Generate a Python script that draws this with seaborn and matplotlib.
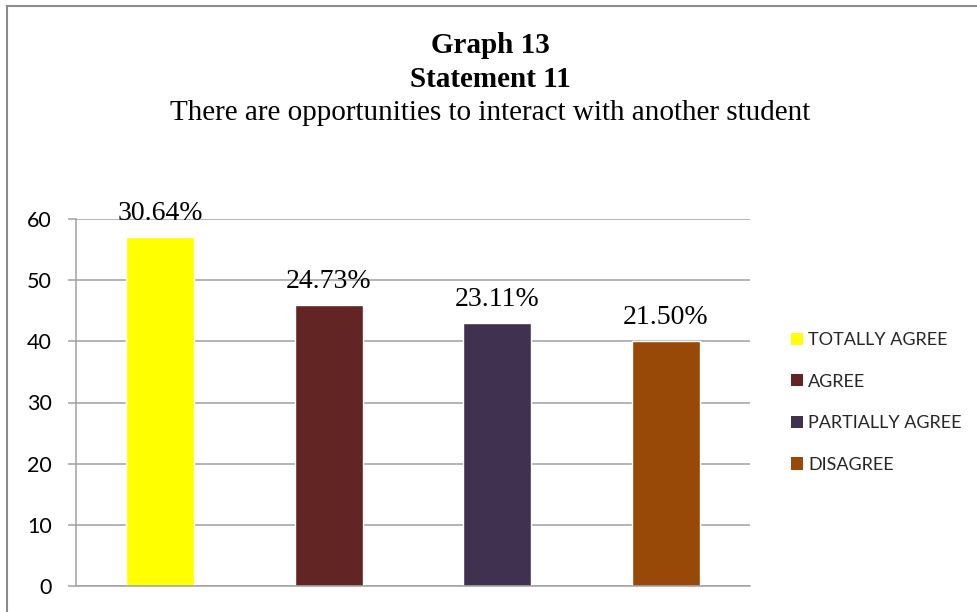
import matplotlib
matplotlib.use("Agg")
import matplotlib.pyplot as plt
import matplotlib.patches as mpatches
import seaborn as sns
import pandas as pd

categories = ["TOTALLY AGREE", "AGREE", "PARTIALLY AGREE", "DISAGREE"]
counts = [57, 46, 43, 40]
pct_labels = ["30.64%", "24.73%", "23.11%", "21.50%"]
colors = ["#FFFF00", "#632523", "#403151", "#984807"]
title_lines = ["Graph 13", "Statement 11", "There are opportunities to interact with another student"]
yticks = [0, 10, 20, 30, 40, 50, 60]

sns.set_theme(style="white")
plt.rcParams['font.family'] = ['Lato', 'DejaVu Sans']

W, H = 977, 612
fig = plt.figure(figsize=(W / 100, H / 100), dpi=100)
ax = fig.add_axes([76 / W, (H - 586) / H, (750 - 76) / W, (586 - 219) / H])

df = pd.DataFrame({"cat": categories, "val": counts})
sns.barplot(data=df, x="cat", y="val", hue="cat", palette=colors, dodge=False,
            width=0.405, saturation=1, legend=False, ax=ax)

ax.set_ylim(0, 60)
ax.set_yticks(yticks)
ax.set_xlim(-0.5, len(categories) - 0.5)
ax.set_xlabel("")
ax.set_ylabel("")
ax.set_xticks([])
ax.grid(axis="y", color="#A0A0A0", linewidth=1.1)
ax.set_axisbelow(True)
for s in ["top", "right"]:
    ax.spines[s].set_visible(False)
for s in ["left", "bottom"]:
    ax.spines[s].set_color("#A0A0A0")
    ax.spines[s].set_linewidth(1.1)
ax.tick_params(axis="y", which="major", left=True, length=5.8, width=1.1,
               color="#A0A0A0", pad=11.5, labelsize=15.5, labelcolor="black")

for i, (v, lab) in enumerate(zip(counts, pct_labels)):
    ax.annotate(lab, xy=(i, v), xytext=(0, 12.2), textcoords="offset points",
                ha="center", va="baseline", fontsize=20,
                family=["Liberation Serif", "DejaVu Serif"], color="black")

handles = [mpatches.Patch(facecolor=c, edgecolor="none", label=l) for c, l in zip(colors, categories)]
leg = fig.legend(handles=handles, loc="upper left", bbox_to_anchor=(791 / W, 1 - 332 / H),
                 frameon=False, fontsize=13, handlelength=0.66, handleheight=0.66,
                 handletextpad=0.3, labelspacing=1.42, borderpad=0, borderaxespad=0)

baselines = [53, 87, 120]
weights = ["bold", "bold", "normal"]
for t, b, w in zip(title_lines, baselines, weights):
    fig.text(0.5 + 2 / W, 1 - b / H, t, ha="center", va="baseline", fontsize=21,
             fontweight=w, family=["Liberation Serif", "DejaVu Serif"], color="black")

border = mpatches.Rectangle((7 / W, -0.05), 1.1, 1 - 6 / H + 0.05, transform=fig.transFigure,
                            fill=False, edgecolor="#8C8C8C", linewidth=1.5, clip_on=False)
fig.patches.append(border)

fig.savefig("out.png", dpi=100)
